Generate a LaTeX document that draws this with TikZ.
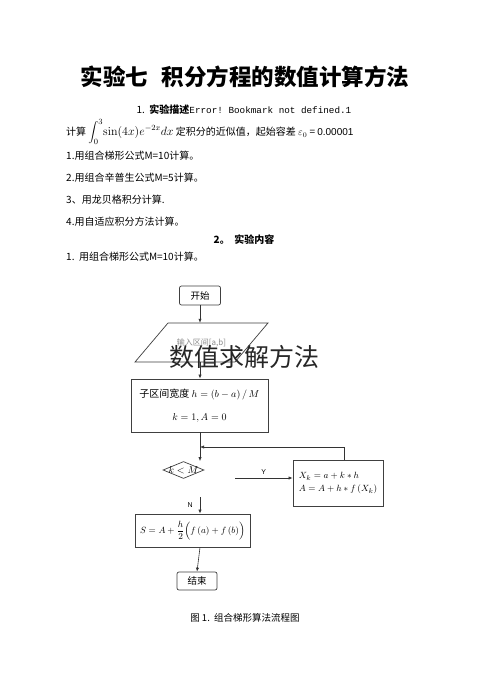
\documentclass[tikz,border=0pt]{standalone}
\usepackage[no-math]{fontspec}
\setmainfont{Noto Sans CJK SC}
\setsansfont{Liberation Sans}
\setmonofont{Liberation Mono}
\usetikzlibrary{shapes.geometric,arrows.meta}
\begin{document}
\begin{tikzpicture}[x=1pt,y=-1pt,
  body/.style={font=\fontsize{10}{12}\selectfont, inner sep=0pt},
  boxline/.style={draw=black!75, line width=0.7pt},
  term/.style={boxline, rounded corners=2pt, minimum width=41pt, minimum height=19pt, inner sep=0pt, font=\fontsize{9.5}{11}\selectfont},
  procbox/.style={boxline, inner sep=0pt, font=\fontsize{10}{12}\selectfont},
  arr/.style={draw=black!80, line width=0.6pt, -{Latex[length=4pt,width=3.2pt]}},
  lbl/.style={font=\sffamily\fontsize{7}{8}\selectfont, inner sep=1pt}
]
\useasboundingbox (0,0) rectangle (490,698);
\fill[white] (0,0) rectangle (490,698);

% ---------- text part ----------
\node[font=\fontsize{22.5}{26}\selectfont\bfseries, inner sep=0pt] (title) at (245,77) {实验七\hspace{0.6em}积分方程的数值计算方法};
\node[body] (h1) at (244,110) {1.\ \ \textbf{实验描述}{\fontsize{9.3}{11}\selectfont\texttt{Error! Bookmark not defined.1}}};
\node[body, anchor=west] (task) at (66,132) {计算 {\fontsize{12}{14}\selectfont$\displaystyle\int_0^3\!\sin(4x)e^{-2x}dx$} 定积分的近似值，起始容差 $\varepsilon_0$ = \textsf{0.00001}};
\node[body, anchor=west] (i1) at (66,156) {1.用组合梯形公式M=10计算。};
\node[body, anchor=west] (i2) at (66,178) {2.用组合辛普生公式M=5计算。};
\node[body, anchor=west] (i3) at (66,200) {3、用龙贝格积分计算.};
\node[body, anchor=west] (i4) at (66,222) {4.用自适应积分方法计算。};
\node[body] (h2) at (244,240) {\textbf{2。\ \ 实验内容}};
\node[body, anchor=west] (j1) at (66,257) {1.\ \ 用组合梯形公式M=10计算。};

% ---------- flowchart ----------
\node[term] (start) at (200,295.5) {开始};

\draw[boxline] (168,323) -- (268,323) -- (235,362) -- (135,362) -- cycle;
\node[minimum width=100pt, minimum height=39pt, inner sep=0pt, text=black!45, font=\fontsize{8}{9}\selectfont] (input) at (201.5,342.5) {输入区间[a,b]};

\node[procbox, minimum width=137pt, minimum height=53pt, align=center] (init) at (199.5,405.5)
  {子区间宽度 $h=\left(b-a\right)/\,M$\\[11pt] $k=1,A=0$};

\node[diamond, boxline, minimum width=41pt, minimum height=17pt, inner sep=0pt,
      label={[font=\fontsize{10}{12}\selectfont]center:$k<M$}] (dec) at (183.5,470) {};

\node[procbox, minimum width=90pt, minimum height=46pt, align=left, font=\fontsize{9.5}{11}\selectfont] (loop) at (338,483)
  {$X_k=a+k*h$\\[2pt] $A=A+h*f\left(X_k\right)$};

\node[procbox, minimum width=115pt, minimum height=33pt, font=\fontsize{9.5}{11}\selectfont] (sum) at (192.5,530.5)
  {$S=A+\displaystyle\frac{h}{2}\Bigl(f\left(a\right)+f\left(b\right)\Bigr)$};

\node[term, minimum width=40pt, minimum height=18pt] (end) at (197,581) {结束};

\node[font=\fontsize{9.5}{11}\selectfont, inner sep=0pt] (cap) at (245,618) {图 1.\ \ 组合梯形算法流程图};

% watermark
\node[font=\fontsize{25}{28}\selectfont, text=black!85, inner sep=0pt] (wm) at (244,357) {数值求解方法};

% connectors
\coordinate (join) at (200,447);
\coordinate (yfrom) at (235,478);
\coordinate (nfrom) at (200,497);

\draw[arr] (start.south) -- (start.south |- input.north);
\draw[arr] (input.south -| start.south) -- (init.north -| start.south);
\draw[arr] (init.south -| start.south) -- (start.south |- dec.north);
\draw[arr] ([xshift=6pt]loop.north) |- (join);
\draw[arr] (yfrom) -- (yfrom -| loop.west) node[lbl, midway, above=2pt] {Y};
\draw[arr] (nfrom) -- (nfrom |- sum.north) node[lbl, midway, left=6pt] {N};
\draw[arr] (sum.south -| start.south) -- (end.north);
\end{tikzpicture}
\end{document}
